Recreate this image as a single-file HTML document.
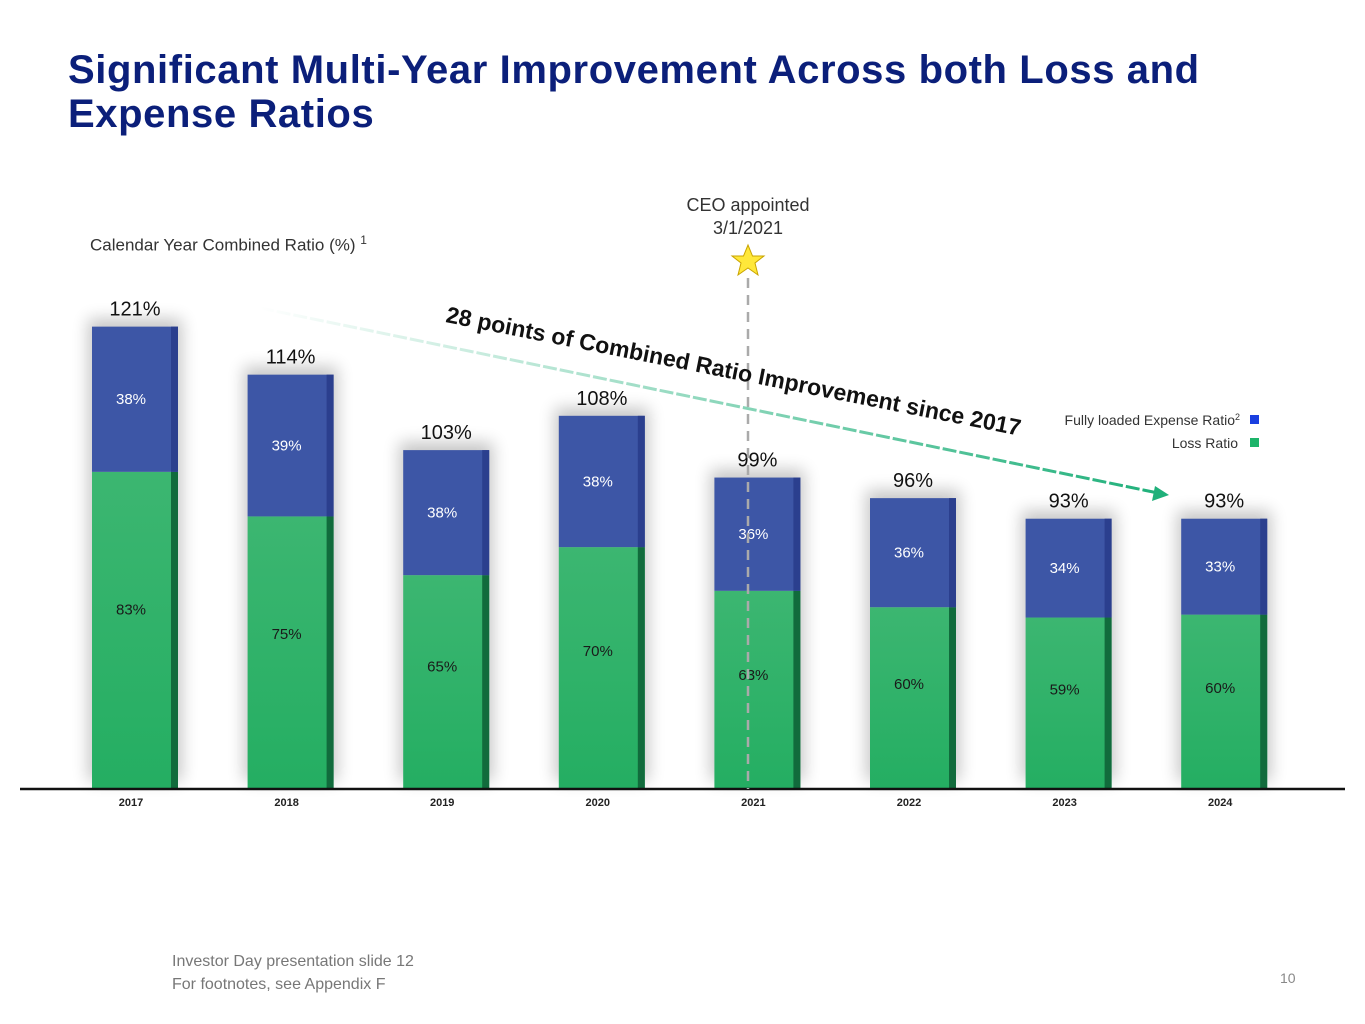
<!DOCTYPE html>
<html><head><meta charset="utf-8">
<style>
body{margin:0;width:1365px;height:1024px;background:#fff;font-family:"Liberation Sans",sans-serif;position:relative;overflow:hidden}
.t{position:absolute}
</style></head><body>
<div class="t" style="left:68px;top:48px;font-size:40px;letter-spacing:0.6px;font-weight:bold;color:#0B1F7A;line-height:44px;white-space:nowrap">Significant Multi-Year Improvement Across both Loss and<br>Expense Ratios</div>
<div class="t" style="left:90px;top:233px;font-size:17px;color:#333">Calendar Year Combined Ratio (%) <sup style="font-size:12px">1</sup></div>
<div class="t" style="left:660px;top:194px;width:176px;text-align:center;font-size:18px;color:#333;line-height:23px">CEO appointed<br>3/1/2021</div>
<div class="t" style="left:172px;top:950px;font-size:16px;color:#777;line-height:23px">Investor Day presentation slide 12<br>For footnotes, see Appendix F</div>
<div class="t" style="left:1280px;top:970px;font-size:14px;color:#888">10</div>
<svg id="c" width="1365" height="1024" style="position:absolute;left:0;top:0">
<defs>
<linearGradient id="gg" x1="0" y1="0" x2="0" y2="1"><stop offset="0" stop-color="#3CB671"/><stop offset="1" stop-color="#24AE62"/></linearGradient>
<linearGradient id="ar" x1="0" y1="0" x2="1" y2="0"><stop offset="0" stop-color="#fff"/><stop offset="1" stop-color="#1FB07A"/></linearGradient>
<filter id="sh" x="-30%" y="-30%" width="160%" height="160%"><feGaussianBlur stdDeviation="8"/></filter>
</defs>
</svg>
<script>
const years=["2017","2018","2019","2020","2021","2022","2023","2024"];
const loss=[83,75,65,70,63,60,59,60];
const expense=[38,39,38,38,36,36,34,33];
const totals=[121,114,103,108,99,96,93,93];
const svg=document.getElementById('c');
const NS='http://www.w3.org/2000/svg';
const base=789;
function xPos(i){return 92+i*155.6;}
function hOf(v){return 6.86*(v-53.6);}
function yOf(v){return base-hOf(v);}
function mk(tag,attrs){const e=document.createElementNS(NS,tag);for(const k in attrs)e.setAttribute(k,attrs[k]);svg.appendChild(e);return e;}
const W=86;
years.forEach((y,i)=>{
  const x=xPos(i);
  const yt=yOf(totals[i]);
  const ylb=base-hOf(totals[i])*loss[i]/(loss[i]+expense[i]);
  const s=mk('rect',{x:x-4,y:yt-8,width:W+8,height:base-yt,fill:'#000',opacity:0.22,filter:'url(#sh)'});
  
  
  const g=mk('rect',{x:x,y:ylb,width:W,height:base-ylb,fill:'url(#gg)'});
  
  
  const gs=mk('rect',{x:x+W-7,y:ylb,width:7,height:base-ylb,fill:'#116B3C'});
  
  
  const b=mk('rect',{x:x,y:yt,width:W,height:ylb-yt,fill:'#3D56A6'});
  
  
  const bs=mk('rect',{x:x+W-7,y:yt,width:7,height:ylb-yt,fill:'#2B3F8E'});
  
  
  const t=mk('text',{x:x+W/2,y:yt-11,'text-anchor':'middle','font-size':20,fill:'#111'});t.textContent=totals[i]+'%';
  
  
  const te=mk('text',{x:x+W/2-4,y:yt+(ylb-yt)*0.5+5,'text-anchor':'middle','font-size':15,fill:'#fff'});te.textContent=expense[i]+'%';
  
  
  const tl=mk('text',{x:x+W/2-4,y:ylb+(base-ylb)*0.45,'text-anchor':'middle','font-size':15,fill:'#1a1a1a'});tl.textContent=loss[i]+'%';
  
  
  const ty=mk('text',{x:x+W/2-4,y:806,'text-anchor':'middle','font-size':11,'font-weight':'bold',fill:'#222'});ty.textContent=y;
  
  
});
const ax=mk('line',{x1:20,y1:789,x2:1345,y2:789,stroke:'#111','stroke-width':2.5});


const dl=mk('line',{x1:748,y1:278,x2:748,y2:789,stroke:'#aaa','stroke-width':2.5,'stroke-dasharray':'10,7'});


const st=mk('polygon',{points:'748,245 752.5,256 764,256 755,263 758,275 748,268 738,275 741,263 732,256 743.5,256',fill:'#FFE83A',stroke:'#C9A400','stroke-width':1});


const al=mk('line',{x1:260,y1:308,x2:1158,y2:493,stroke:'url(#ar)','stroke-width':3,'stroke-dasharray':'14,3'});


const ah=mk('polygon',{points:'1169,495 1155,486 1152,501',fill:'#1FB07A'});


const at=mk('text',{x:445,y:322,'font-size':23,'font-weight':'bold',fill:'#111',transform:'rotate(11.2 445 322)'});at.textContent='28 points of Combined Ratio Improvement since 2017';


const l1=mk('text',{x:1240,y:425,'text-anchor':'end','font-size':14,fill:'#333'});l1.innerHTML='Fully loaded Expense Ratio<tspan font-size="9" dy="-5">2</tspan>';


const s1=mk('rect',{x:1250,y:415,width:9,height:9,fill:'#1A3FE0'});


const l2=mk('text',{x:1238,y:448,'text-anchor':'end','font-size':14,fill:'#333'});l2.textContent='Loss Ratio';


const s2=mk('rect',{x:1250,y:438,width:9,height:9,fill:'#1DB46A'});


</script>
</body></html>
